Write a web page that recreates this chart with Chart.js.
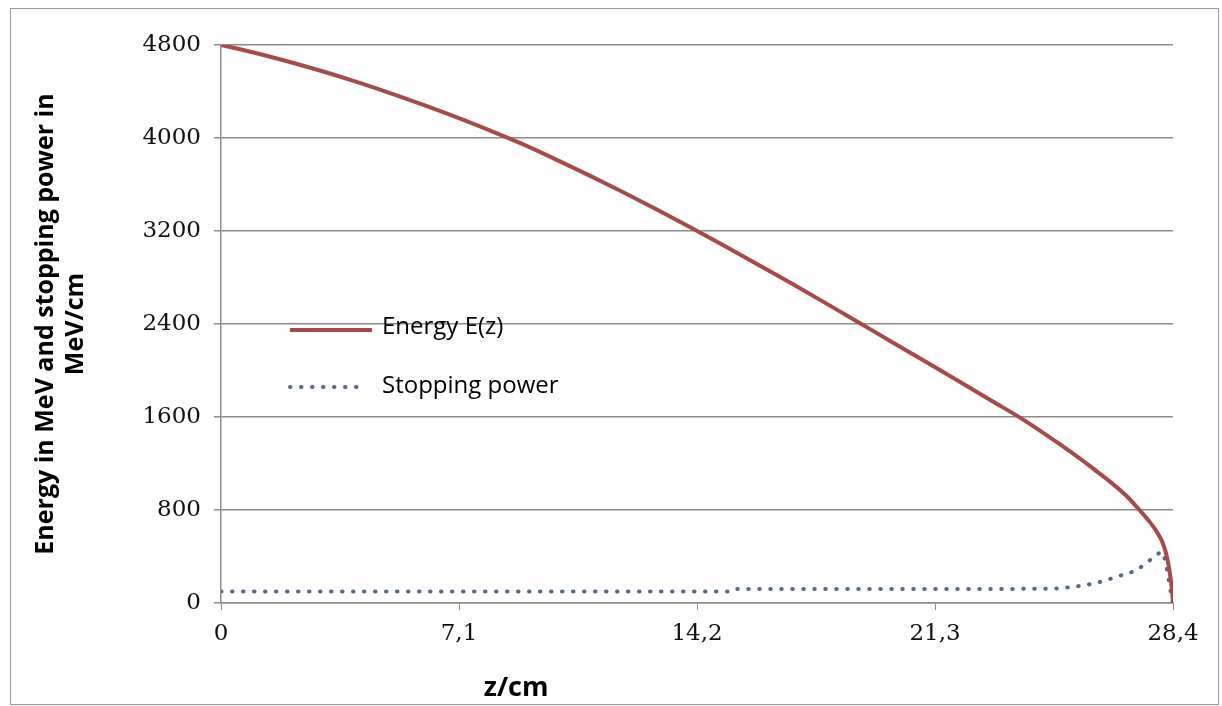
<!DOCTYPE html>
<html>
<head>
<meta charset="utf-8">
<script src="https://cdn.jsdelivr.net/npm/chart.js@4.4.1/dist/chart.umd.min.js"></script>
<style>
  html, body { margin: 0; padding: 0; background: #fff; }
  #wrap { width: 1222px; height: 706px; }
</style>
</head>
<body>
<div id="wrap"><canvas id="chart" width="1222" height="706"></canvas></div>
<script>
// Depth in cm
const zEnergy = [0, 1, 2, 3, 4, 5, 6, 7, 8, 9, 10, 11, 12, 13, 14, 15, 16, 17, 18, 19, 20,
  21, 22, 23, 24, 25, 26, 27, 27.4, 27.7, 27.9, 28.05, 28.15, 28.23, 28.3, 28.35, 28.38, 28.4];
// Energy E(z) in MeV
const energy = [4800, 4733, 4658, 4576, 4487, 4391, 4289, 4181, 4067, 3947, 3814, 3676, 3533, 3385, 3232, 3075,
  2915, 2752, 2586, 2418, 2248, 2079, 1909, 1738, 1565, 1370, 1160, 925, 800, 700, 620, 545, 470, 380, 270, 160, 80, 0];

const zStopping = [0, 7.1, 15.2, 15.3, 21.3, 24.8, 25.4, 26.1, 26.7, 27.3, 27.8, 28.08, 28.18, 28.26, 28.33, 28.4];
// Stopping power in MeV/cm
const stopping = [100, 100, 100, 120, 120, 124, 138, 172, 224, 284, 387, 439, 344, 220, 100, 0];

const xTicks = [0, 7.1, 14.2, 21.3, 28.4];

const colors = {
  energy: '#a64b4a',
  stopping: '#56688c',
  grid: '#8c8c8c',
  frame: '#9a9a9a',
};

// outer frame + custom legend + x title
const decorations = {
  id: 'decorations',
  beforeDraw(chart) {
    const ctx = chart.ctx;
    ctx.save();
    ctx.fillStyle = '#fff';
    ctx.fillRect(0, 0, chart.width, chart.height);
    ctx.strokeStyle = colors.frame;
    ctx.lineWidth = 1;
    ctx.strokeRect(10.5, 8.5, 1208, 696);
    ctx.restore();
  },
  afterDraw(chart) {
    const ctx = chart.ctx;
    const a = chart.chartArea;
    const lx = a.left + 69;
    ctx.save();
    // energy
    ctx.strokeStyle = colors.energy;
    ctx.lineWidth = 4;
    ctx.beginPath();
    ctx.moveTo(lx, a.top + 285);
    ctx.lineTo(lx + 82, a.top + 285);
    ctx.stroke();
    // stopping power
    ctx.strokeStyle = colors.stopping;
    ctx.lineCap = 'round';
    ctx.setLineDash([0.5, 10.5]);
    ctx.beginPath();
    ctx.moveTo(lx, a.top + 342);
    ctx.lineTo(lx + 75, a.top + 342);
    ctx.stroke();
    ctx.setLineDash([]);
    ctx.fillStyle = '#000';
    ctx.font = '24px "Open Sans"';
    ctx.textBaseline = 'middle';
    ctx.fillText('Energy E(z)', lx + 92, a.top + 282);
    ctx.fillText('Stopping power', lx + 92, a.top + 341);
    // x title
    ctx.font = 'bold 27px "Open Sans"';
    ctx.textAlign = 'center';
    ctx.fillText('z/cm', a.left + 0.31 * (a.right - a.left), 688);
    ctx.restore();
  }
};

new Chart(document.getElementById('chart'), {
  type: 'scatter',
  data: {
    datasets: [
      {
        label: 'Energy E(z)',
        data: zEnergy.map((z, i) => ({ x: z, y: energy[i] })),
        showLine: true,
        borderColor: colors.energy,
        borderWidth: 4,
        pointRadius: 0,
        cubicInterpolationMode: 'monotone',
      },
      {
        label: 'Stopping power',
        data: zStopping.map((z, i) => ({ x: z, y: stopping[i] })),
        showLine: true,
        borderColor: colors.stopping,
        borderWidth: 4,
        borderDash: [0.5, 10.5],
        borderCapStyle: 'round',
        pointRadius: 0,
        cubicInterpolationMode: 'monotone',
      }
    ]
  },
  options: {
    responsive: false,
    animation: false,
    devicePixelRatio: 1,
    layout: { padding: { left: 18, top: 45, right: 49, bottom: 0 } },
    plugins: {
      legend: { display: false },
      tooltip: { enabled: false }
    },
    scales: {
      x: {
        type: 'linear',
        min: 0,
        max: 28.4,
        afterBuildTicks: s => { s.ticks = xTicks.map(v => ({ value: v })); },
        afterFit: s => { s.height = 103; },
        border: { color: colors.grid, width: 1.5 },
        grid: { drawOnChartArea: false, drawTicks: true, tickLength: 7, color: colors.grid },
        ticks: {
          color: '#111',
          padding: 10,
          maxRotation: 0,
          font: { family: '"DejaVu Serif"', size: 23 },
          callback: v => String(v).replace('.', ',')
        }
      },
      y: {
        min: 0,
        max: 4800,
        afterFit: s => { s.width = 221 - 18; },
        border: { color: colors.grid, width: 1.5 },
        grid: { color: colors.grid, lineWidth: 1.5, tickLength: 7 },
        ticks: {
          stepSize: 800,
          color: '#111',
          padding: 13,
          font: { family: '"DejaVu Serif"', size: 23 },
          callback: v => String(v)
        },
        title: {
          display: true,
          text: ['Energy in MeV and stopping power in', 'MeV/cm'],
          color: '#000',
          padding: { top: 13, bottom: 0 },
          font: { family: '"Open Sans"', size: 25, weight: 'bold', lineHeight: 1.2 }
        }
      }
    }
  },
  plugins: [decorations]
});
</script>
</body>
</html>
